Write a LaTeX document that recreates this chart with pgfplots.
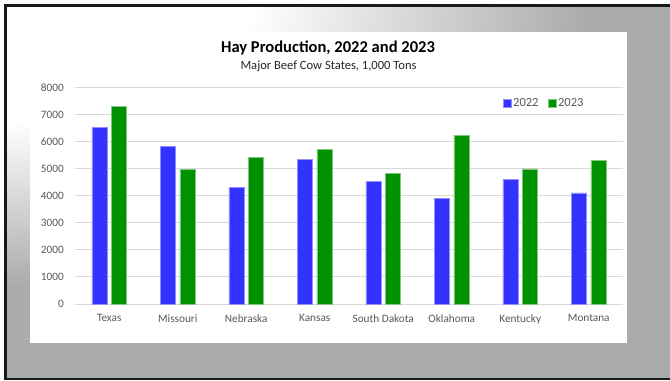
\documentclass[border=0pt]{standalone}
\usepackage{pgfplots}
\pgfplotsset{compat=1.18}
\usepackage{fontspec}
\setmainfont{Carlito}
\definecolor{barblue}{HTML}{3333FF}
\definecolor{bargreen}{HTML}{009100}
\definecolor{gridgray}{HTML}{D9D9D9}
\definecolor{txtgray}{HTML}{595959}
\definecolor{bggray}{HTML}{ABABAB}
\pgfdeclareradialshading{bgshade}{\pgfpoint{0bp}{0bp}}{color(0bp)=(white); color(9bp)=(white); color(21bp)=(bggray); color(50bp)=(bggray)}
\begin{document}
\begin{tikzpicture}[x=1bp,y=1bp]
\useasboundingbox (0,0) rectangle (670,380);
\fill[white] (0,0) rectangle (670,380);
\begin{scope}
\clip (6.5,2.5) rectangle (670,372.7);
\fill[bggray] (0,0) rectangle (670,380);
\shade[shading=bgshade] (-700,40) rectangle (700,720);
\end{scope}
% frame
\fill[black!90] (4,0) rectangle (6.7,375.5);
\fill[black!90] (4,372.7) rectangle (670,375.5);
\fill[black!90] (4,0) rectangle (670,2.5);
% chart area
\fill[white] (30,36.7) rectangle (627,347.7);
\node[font=\bfseries\fontsize{16.6}{18}\selectfont, text=black] at (328,332) {Hay Production, 2022 and 2023};
\node[font=\fontsize{12.6}{14}\selectfont, text=black!85] at (328.5,314) {Major Beef Cow States, 1,000 Tons};
\begin{axis}[
  at={(75bp,76bp)}, anchor=south west,
  scale only axis, width=548bp, height=216.7bp,
  ybar, bar width=15.3bp,
  xmin=-0.5, xmax=7.5, ymin=0, ymax=8000,
  xtick={0,1,2,3,4,5,6,7},
  xticklabels={Texas,Missouri,Nebraska,Kansas,South Dakota,Oklahoma,Kentucky,Montana},
  ytick={0,1000,2000,3000,4000,5000,6000,7000,8000},
  scaled y ticks=false,
  /pgf/number format/1000 sep={},
  /pgf/number format/assume math mode=true,
  major tick length=0pt,
  axis line style={draw=none},
  ymajorgrids, grid style={gridgray, line width=0.9bp},
  tick label style={font=\fontsize{11.3}{12}\selectfont, text=txtgray},
  yticklabel style={anchor=east, inner sep=0pt, xshift=-11bp},
  xticklabel style={anchor=north, inner sep=0pt, yshift=-10.5bp},
  legend columns=2,
  legend style={at={(0.856,0.928)}, anchor=center, draw=none, fill=none,
    font=\fontsize{12.6}{13}\selectfont, text=txtgray,
    /tikz/every even column/.append style={column sep=7bp},
    inner sep=0pt},
  legend image code/.code={\fill[#1] (0bp,-4bp) rectangle (8bp,4bp);},
]
\addplot[fill=barblue, draw=barblue!55!white, line width=0.5bp, bar shift=-9.7bp] coordinates {
(0,6520) (1,5810) (2,4310) (3,5340) (4,4540) (5,3910) (6,4600) (7,4100)};
\addplot[fill=bargreen, draw=bargreen!50!white, line width=0.5bp, bar shift=9.7bp] coordinates {
(0,7290) (1,4980) (2,5420) (3,5720) (4,4810) (5,6230) (6,4990) (7,5290)};
\legend{2022,2023}
\end{axis}
\end{tikzpicture}
\end{document}
